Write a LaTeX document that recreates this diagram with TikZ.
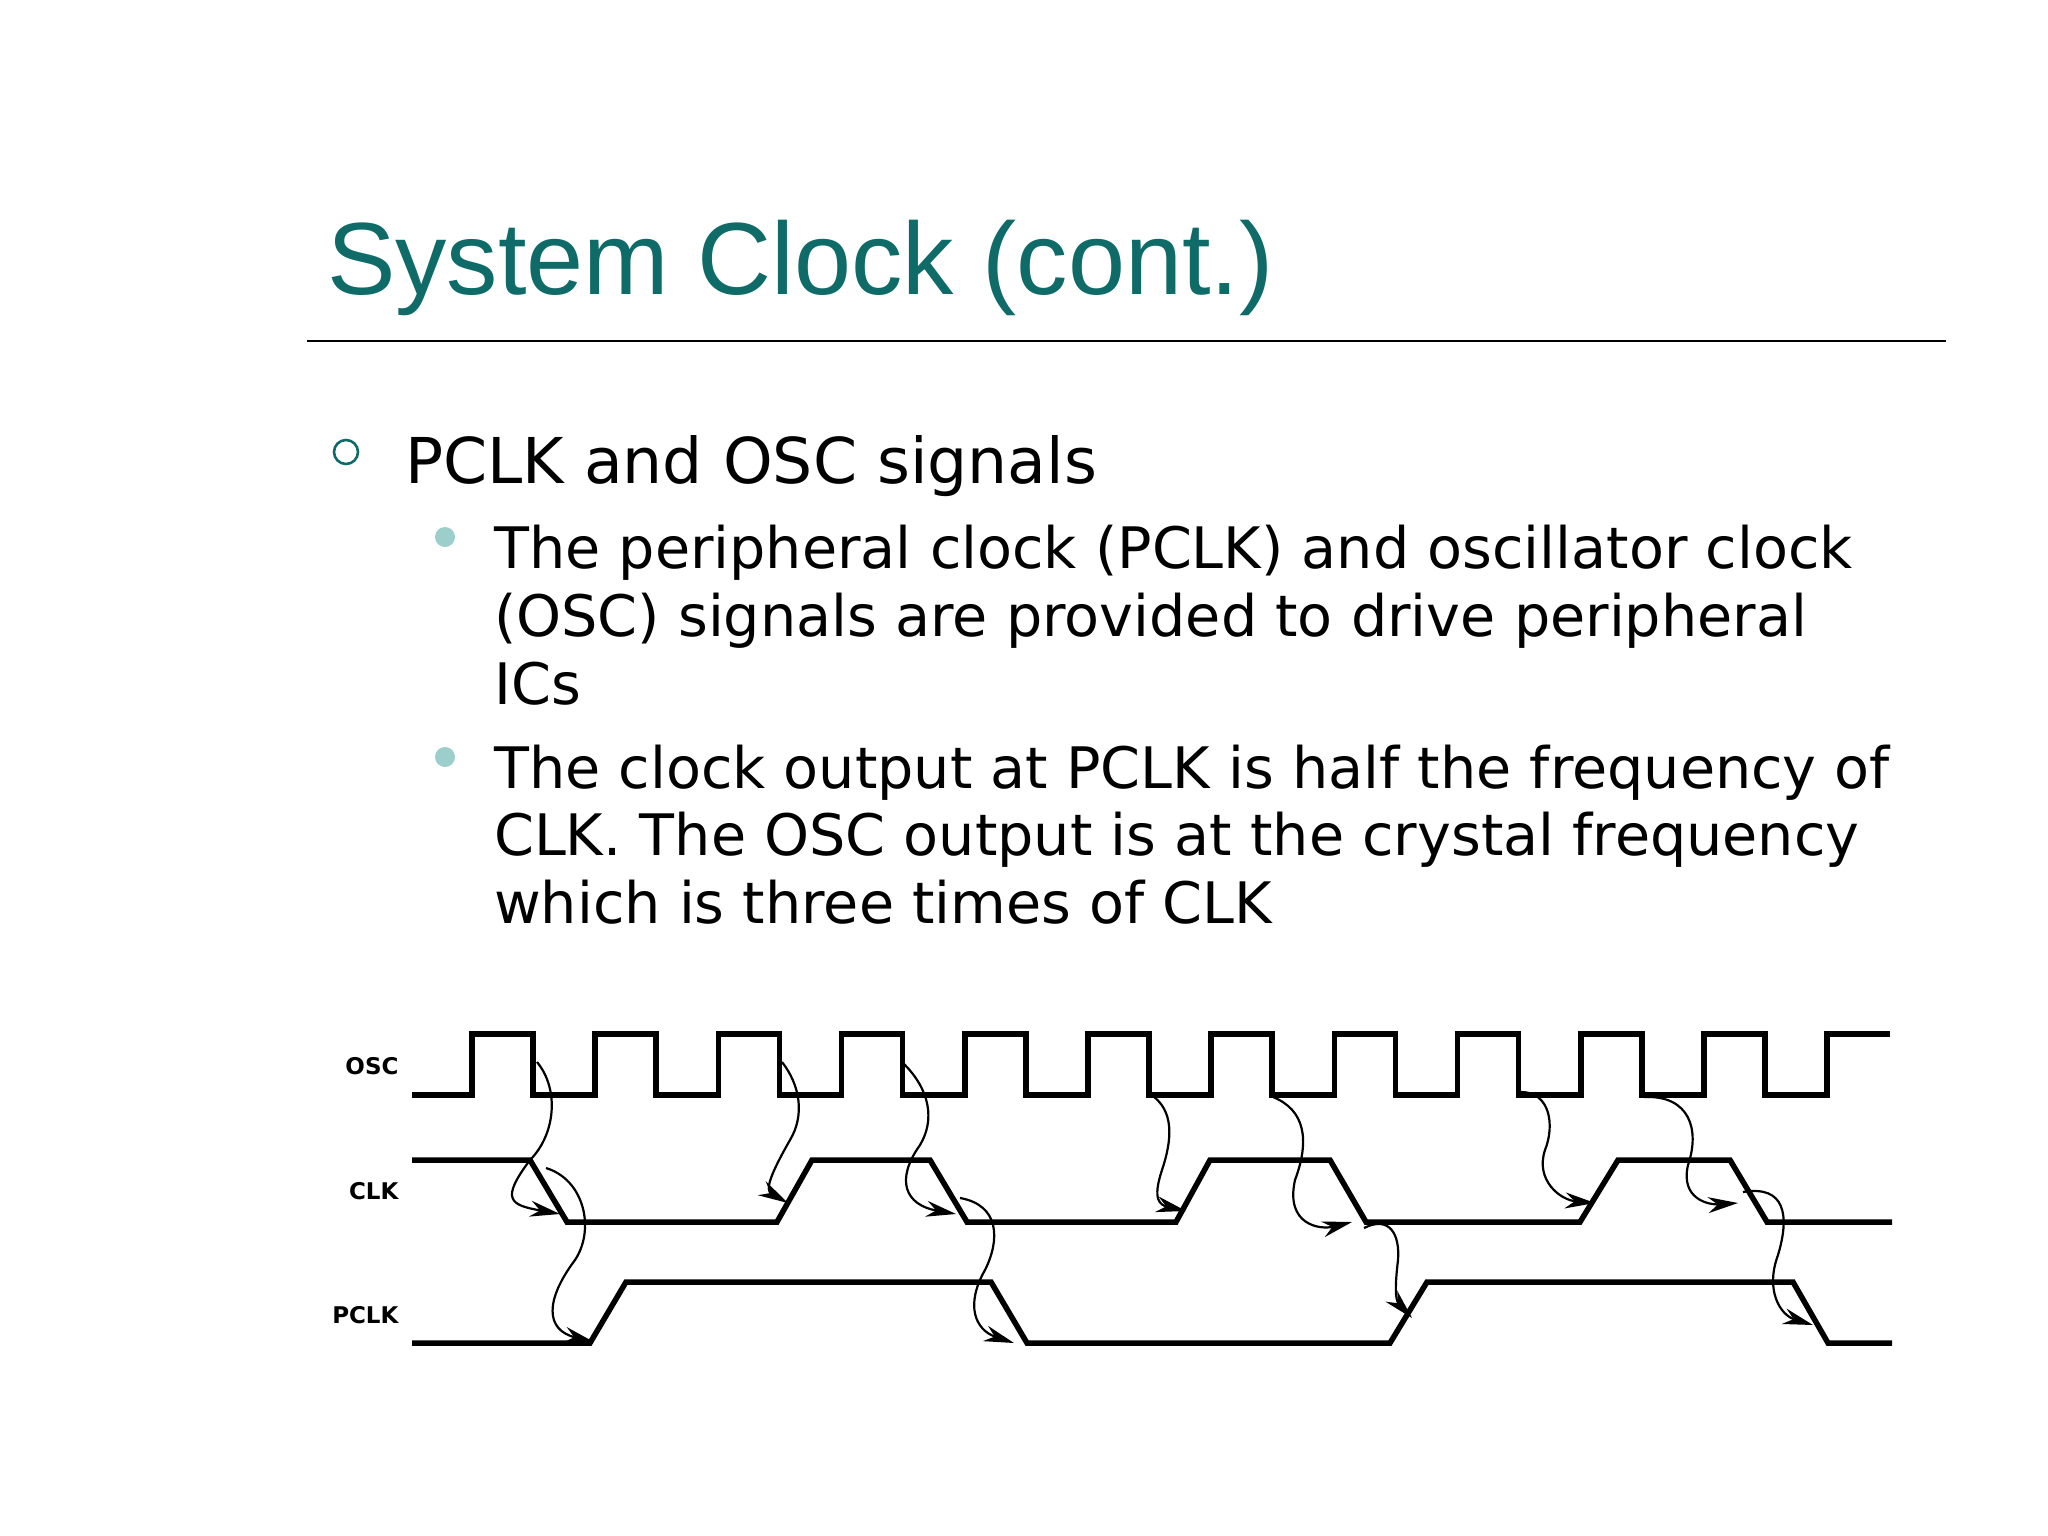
\documentclass[tikz,border=0pt]{standalone}
\usepackage{fontspec}
\setmainfont{DejaVu Sans}
\newfontfamily\titlefont{Liberation Sans}
\newfontfamily\labfont{DejaVu Sans}
\usetikzlibrary{arrows.meta}
\definecolor{teal1}{HTML}{0E6B68}
\definecolor{teal2}{HTML}{9CCFCB}
\begin{document}
\begin{tikzpicture}[x=1pt,y=-1pt,
  wave/.style={line width=5.5pt,line join=miter},
  dep/.style={line width=2.2pt,-{Stealth[length=30pt,width=16pt]}},
  lab/.style={anchor=east,font=\labfont\bfseries\fontsize{23}{23}\selectfont},
  body/.style={anchor=base west,font=\fontsize{57.2}{68}\selectfont}]
\useasboundingbox (0,0) rectangle (2048,1536);
\fill[white] (0,0) rectangle (2048,1536);
\node[anchor=base west,inner sep=0,text=teal1,font=\titlefont\fontsize{102.6}{102.6}\selectfont] (title) at (327,294) {System Clock (cont.)};
\draw[line width=2pt] (307,341) -- (1946,341);
\draw[teal1,line width=2.6pt] (346,452) circle (12);
\node[body,inner sep=0,font=\fontsize{63.2}{63.2}\selectfont] (l1) at (405,483) {PCLK and OSC signals};
\fill[teal2] (445,537) circle (10);
\fill[teal2] (445,757) circle (10);
\node[body,inner sep=0] (a1) at (494,568) {The peripheral clock (PCLK) and oscillator clock};
\node[body,inner sep=0] (a2) at (494,636) {(OSC) signals are provided to drive peripheral};
\node[body,inner sep=0] (a3) at (494,704) {ICs};
\node[body,inner sep=0] (b1) at (494,788) {The clock output at PCLK is half the frequency of};
\node[body,inner sep=0] (b2) at (494,855) {CLK. The OSC output is at the crystal frequency};
\node[body,inner sep=0] (b3) at (494,923) {which is three times of CLK};
% labels
\node[lab] (losc) at (402,1066) {OSC};
\node[lab] (lclk) at (402,1191) {CLK};
\node[lab] (lpclk) at (402,1315) {PCLK};
% OSC
\draw[wave] (412,1095) -- (472,1095) -- (472,1034)
  \foreach \k in {0,...,10} {
    -- ({472+123.2*\k+61},1034) -- ({472+123.2*\k+61},1095) -- ({472+123.2*(\k+1)},1095) -- ({472+123.2*(\k+1)},1034)
  } -- (1890,1034);
% CLK
\draw[wave] (412,1160) -- (530,1160) -- (567,1222) -- (777,1222) -- (812,1160) -- (930,1160) -- (967,1222)
  -- (1176,1222) -- (1210,1160) -- (1330,1160) -- (1366,1222) -- (1580,1222) -- (1618,1160) -- (1730,1160)
  -- (1767,1222) -- (1892,1222);
% PCLK
\draw[wave] (412,1343) -- (590,1343) -- (626,1282) -- (991,1282) -- (1027,1343) -- (1390,1343) -- (1427,1282)
  -- (1793,1282) -- (1828,1343) -- (1892,1343);
% dependency arrows
\coordinate (s1) at (537,1062); \coordinate (e1) at (560,1214);
\draw[dep] (s1) .. controls (560,1090) and (555,1135) .. (530,1160) .. controls (500,1200) and (510,1205) .. (e1);
\coordinate (s2) at (546,1168); \coordinate (e2) at (594,1342);
\draw[dep] (s2) .. controls (585,1180) and (595,1230) .. (575,1260) .. controls (545,1300) and (545,1330) .. (e2);
\coordinate (s3) at (782,1062); \coordinate (e3) at (788,1203);
\draw[dep] (s3) .. controls (800,1085) and (805,1115) .. (790,1140) .. controls (770,1175) and (765,1190) .. (e3);
\coordinate (s4) at (904,1064); \coordinate (e4) at (956,1214);
\draw[dep] (s4) .. controls (930,1090) and (935,1120) .. (920,1145) .. controls (895,1180) and (905,1205) .. (e4);
\coordinate (s5) at (960,1198); \coordinate (e5) at (1014,1343);
\draw[dep] (s5) .. controls (1000,1205) and (1000,1240) .. (985,1270) .. controls (965,1305) and (975,1330) .. (e5);
\coordinate (s6) at (1150,1094); \coordinate (e6) at (1186,1211);
\draw[dep] (s6) .. controls (1175,1110) and (1172,1140) .. (1162,1170) .. controls (1152,1200) and (1160,1205) .. (e6);
\coordinate (s7) at (1273,1097); \coordinate (e7) at (1352,1222);
\draw[dep] (s7) .. controls (1305,1110) and (1310,1140) .. (1295,1180) .. controls (1285,1225) and (1320,1230) .. (e7);
\coordinate (s8) at (1364,1228); \coordinate (e8) at (1412,1318);
\draw[dep] (s8) .. controls (1390,1215) and (1400,1235) .. (1398,1260) .. controls (1395,1285) and (1395,1300) .. (e8);
\coordinate (s9) at (1521,1092); \coordinate (e9) at (1595,1203);
\draw[dep] (s9) .. controls (1550,1092) and (1555,1125) .. (1545,1150) .. controls (1535,1180) and (1560,1200) .. (e9);
\coordinate (s10) at (1644,1097); \coordinate (e10) at (1738,1203);
\draw[dep] (s10) .. controls (1690,1095) and (1700,1130) .. (1688,1165) .. controls (1680,1200) and (1710,1205) .. (e10);
\coordinate (s11) at (1743,1192); \coordinate (e11) at (1813,1325);
\draw[dep] (s11) .. controls (1785,1185) and (1790,1215) .. (1778,1255) .. controls (1765,1290) and (1780,1315) .. (e11);
\end{tikzpicture}
\end{document}
